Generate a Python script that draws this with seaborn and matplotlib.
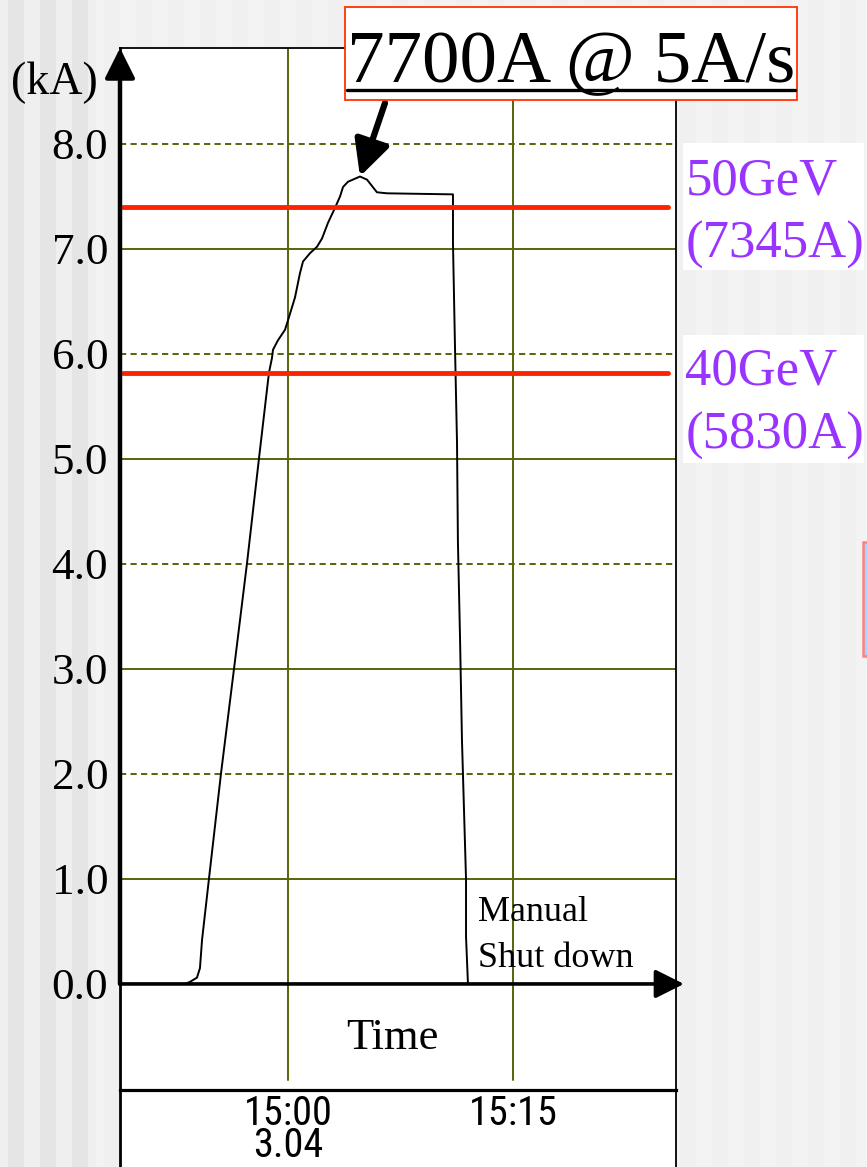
import numpy as np
import pandas as pd
import matplotlib
matplotlib.use("Agg")
import matplotlib.pyplot as plt
import matplotlib.transforms as mtransforms
from matplotlib import font_manager as fm
from matplotlib.patches import Rectangle
from matplotlib.lines import Line2D
import seaborn as sns

# ---------------- data ----------------
minutes_after_1500 = [-11.2, -6.87, -6.53, -6.07, -5.87, -5.73, -5.27, -4.47, -3.6, -2.73,
                      -1.93, -1.27, -1.07, -1.0, -0.67, -0.2, 0.0, 0.47, 0.8, 1.0,
                      1.47, 1.93, 2.27, 2.67, 3.13, 3.47, 3.67, 4.0, 4.8, 5.27,
                      5.93, 6.6, 11.0, 11.0, 11.13, 11.27, 11.33, 11.47, 11.6, 11.87,
                      11.87, 12.0, 25.8]
current_kA = [0.0, 0.0, 0.02, 0.06, 0.15, 0.42, 1.0, 2.0, 3.0, 4.01,
              5.01, 5.82, 5.96, 6.04, 6.13, 6.23, 6.32, 6.54, 6.77, 6.88,
              6.96, 7.02, 7.10, 7.25, 7.39, 7.50, 7.59, 7.64, 7.69, 7.66,
              7.54, 7.53, 7.52, 7.06, 6.10, 5.15, 4.21, 3.30, 2.32, 1.0,
              0.45, 0.0, 0.0]

ytick_values = [0, 1, 2, 3, 4, 5, 6, 7, 8]
ytick_labels = ["0.0", "1.0", "2.0", "3.0", "4.0", "5.0", "6.0", "7.0", "8.0"]
solid_grid_kA = [1, 3, 5, 7]
dashed_grid_kA = [2, 4, 6, 8]
time_ticks = [0, 15]
time_labels = ["15:00\n3.04", "15:15"]
beam_levels_kA = [7.40, 5.82]
beam_top_labels = ["50GeV", "40GeV"]
beam_bottom_labels = ["(7345A)", "(5830A)"]
peak_label = "7700A @ 5A/s"

# ---------------- styling ----------------
sns.set_theme(style="white")
plt.rcParams["font.family"] = ["Liberation Serif", "DejaVu Serif"]

# narrow font for the time labels, if one is installed
narrow_family, narrow_size = "Liberation Sans", 27.5
for cand, size in [("Roboto Condensed", 29), ("Liberation Sans Narrow", 29),
                   ("Arial Narrow", 29), ("Nimbus Sans Narrow", 29)]:
    try:
        fm.findfont(fm.FontProperties(family=cand), fallback_to_default=False)
        narrow_family, narrow_size = cand, size
        break
    except Exception:
        pass

W, H = 867, 1167
fig = plt.figure(figsize=(W / 100, H / 100), dpi=100)

# striped slide background
bg = fig.add_axes([0, 0, 1, 1], zorder=-10)
px = np.arange(W)
k = (px + 8) // 16
shade = np.where(px < 96, np.where(k % 2 == 0, 0.935, 0.897),
                 np.where(k % 2 == 0, 0.957, 0.941))
bg.imshow(np.tile(shade, (2, 1)), cmap="gray", vmin=0, vmax=1, aspect="auto",
          extent=[0, 1, 0, 1], interpolation="nearest")
bg.axis("off")

L, R, T, B = 120, 676, 48, 1090
ax_low = fig.add_axes([L / W, 0, (R - L) / W, 1 - B / H], zorder=1)
ax_low.set_facecolor("white")
ax_low.set_xticks([]); ax_low.set_yticks([])
ax_low.spines["top"].set_visible(False)
ax_low.spines["bottom"].set_visible(False)
ax_low.spines["left"].set_linewidth(2.0)
ax_low.spines["right"].set_linewidth(1.3)
for s in ax_low.spines.values():
    s.set_color("black")

ax = fig.add_axes([L / W, 1 - B / H, (R - L) / W, (B - T) / H], zorder=2)
ax.set_facecolor("white")
xmin, xmax = -11.2, 25.87
ymin, ymax = -1.01, 8.914
ax.set_xlim(xmin, xmax)
ax.set_ylim(ymin, ymax)

grid_color = "#55650a"
for v in solid_grid_kA:
    ax.axhline(v, color=grid_color, lw=1.4, zorder=1)
for v in dashed_grid_kA:
    ax.axhline(v, color=grid_color, lw=1.4, ls=(0, (3.2, 2.2)), zorder=1)
for t in time_ticks:
    ax.axvline(t, ymin=10 / (B - T), ymax=1, color=grid_color, lw=1.4, zorder=1)

df = pd.DataFrame({"minutes": minutes_after_1500, "kA": current_kA})
sns.lineplot(data=df, x="minutes", y="kA", ax=ax, color="black", lw=1.4,
             sort=False, estimator=None, zorder=3)

for lvl in beam_levels_kA:
    ax.axhline(lvl, xmin=3 / (R - L), xmax=548 / (R - L), color="#ff2200",
               lw=3.5, zorder=4)

# axes arrows
ax.annotate("", xy=(xmin, ymax), xytext=(xmin, 0),
            arrowprops=dict(arrowstyle="-|>", color="black", lw=3.2,
                            mutation_scale=46, shrinkA=0, shrinkB=0),
            annotation_clip=False, zorder=6)
ax.annotate("", xy=(26.4, 0), xytext=(xmin, 0),
            arrowprops=dict(arrowstyle="-|>", color="black", lw=2.6,
                            mutation_scale=44, shrinkA=0, shrinkB=0),
            annotation_clip=False, zorder=6)

ax.spines["left"].set_linewidth(2.0)
ax.spines["top"].set_linewidth(1.3)
ax.spines["right"].set_linewidth(1.3)
ax.spines["bottom"].set_linewidth(2.3)
for s in ax.spines.values():
    s.set_color("black")

ax.set_yticks(ytick_values, ytick_labels)
ax.set_xticks(time_ticks, time_labels)
ax.tick_params(axis="y", length=0, pad=8.5, labelsize=32.5, labelcolor="black")
ax.tick_params(axis="x", length=0, pad=3, labelsize=narrow_size, labelcolor="black")
for lab in ax.get_xticklabels():
    lab.set_fontfamily([narrow_family, "DejaVu Sans"])
    lab.set_linespacing(0.78)
ax.set_xlabel(""); ax.set_ylabel("")

ax.text(-0.04, 0.967, "(kA)", transform=ax.transAxes, ha="right", va="center",
        fontsize=33, color="black")
ax.text(6.93, -0.62, "Time", ha="center", va="baseline", fontsize=32, color="black")
ax.text(12.67, 0.60, "Manual", ha="left", va="baseline", fontsize=26, color="black")
ax.text(12.67, 0.16, "Shut down", ha="left", va="baseline", fontsize=26, color="black")

# beam energy labels on the right
purple = "#9933ff"
blend = mtransforms.blended_transform_factory(ax.transAxes, ax.transData)
box_spans = [(6.80, 8.01), (4.96, 6.18)]
top_baselines = [7.514, 5.705]
bottom_baselines = [6.914, 5.095]
for i in range(len(beam_levels_kA)):
    y0, y1 = box_spans[i]
    ax.add_patch(Rectangle((1.0126, y0), 0.3255, y1 - y0, transform=blend,
                           facecolor="white", edgecolor="none", clip_on=False, zorder=5))
    ax.text(1.017, top_baselines[i], beam_top_labels[i], transform=blend, ha="left",
            va="baseline", fontsize=38, color=purple, zorder=6)
    ax.text(1.017, bottom_baselines[i], beam_bottom_labels[i], transform=blend, ha="left",
            va="baseline", fontsize=38, color=purple, zorder=6)

# peak annotation
ipk = int(np.argmax(current_kA))
ax.annotate("", xy=(minutes_after_1500[ipk], current_kA[ipk]), xycoords="data",
            xytext=(385, H - 103), textcoords="figure pixels",
            arrowprops=dict(arrowstyle="-|>", color="black", lw=4.5,
                            mutation_scale=54, shrinkA=0, shrinkB=0),
            annotation_clip=False, zorder=7)
fig.patches.append(Rectangle((345 / W, 1 - 100 / H), (797 - 345) / W, 93 / H,
                             transform=fig.transFigure, facecolor="white",
                             edgecolor="#ff3300", lw=1.3, zorder=8))
t = fig.text(571 / W, 1 - 82 / H, peak_label, ha="center", va="baseline",
             fontsize=54, color="black", zorder=9)
fig.canvas.draw()
bb = t.get_window_extent(fig.canvas.get_renderer())
fig.add_artist(Line2D([bb.x0 / W, bb.x1 / W], [(H - 90) / H, (H - 90) / H],
                      transform=fig.transFigure, color="black", lw=2.4, zorder=9))

# partial shape clipped at the right edge of the slide
fig.patches.append(Rectangle((863 / W, 1 - 656 / H), 10 / W, 114 / H,
                             transform=fig.transFigure, facecolor="#a8d4ff",
                             edgecolor="#ff8080", lw=1.8, zorder=1))

fig.savefig("out.png", dpi=100)
